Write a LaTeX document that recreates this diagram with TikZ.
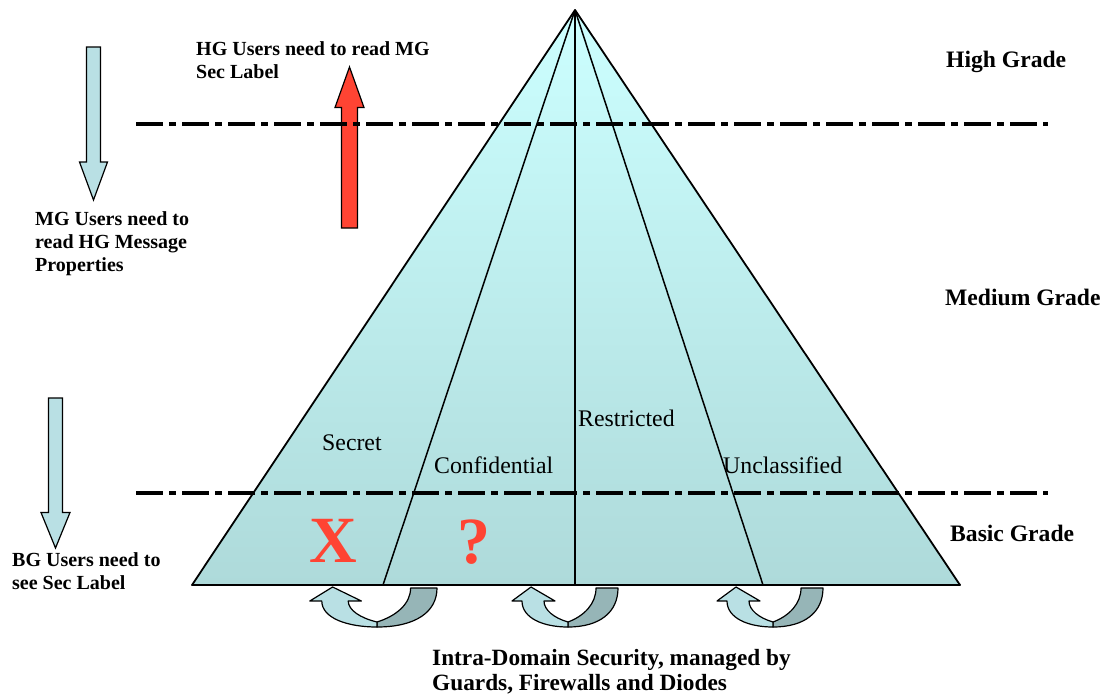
\documentclass[tikz,border=0pt]{standalone}
\usepackage{fontspec}
\setmainfont{Liberation Serif}
\begin{document}
\begin{tikzpicture}[x=1pt,y=-1pt,
  pyr/.style={draw=black,line width=1.8pt,line join=round},
  divider/.style={draw=black,line width=1.5pt},
  gradeline/.style={draw=black,line width=4pt,dash pattern=on 27pt off 6pt on 7pt off 6pt},
  blockarrow/.style={draw=black,line width=1.2pt,fill=lightband,line join=miter},
  redarrow/.style={draw=black,line width=1.2pt,fill=redfill},
  smalllbl/.style={inner sep=0pt,font=\fontsize{20}{23}\selectfont\bfseries,align=left},
  gradelbl/.style={inner sep=0pt,anchor=base west,font=\fontsize{23.6}{26}\selectfont\bfseries},
  classlbl/.style={inner sep=0pt,anchor=base west,font=\fontsize{23.8}{26}\selectfont},
  marklbl/.style={inner sep=0pt,anchor=base,text=redfill,font=\fontsize{66}{70}\selectfont\bfseries},
  bottomlbl/.style={inner sep=0pt,anchor=north west,align=left,font=\fontsize{23.3}{24.5}\selectfont\bfseries},
  uband/.style={draw=black,line width=1.2pt,line join=round}
]
\definecolor{pyrtop}{RGB}{204,255,255}
\definecolor{pyrbot}{RGB}{174,218,218}
\definecolor{lightband}{RGB}{185,224,228}
\definecolor{darkband}{RGB}{150,181,183}
\definecolor{redfill}{RGB}{255,68,51}

\useasboundingbox (0,0) rectangle (1103,694);

% pyramid
\coordinate (apex) at (575,10);
\coordinate (bl) at (192,585);
\coordinate (br) at (960,585);
\coordinate (b1) at (383,585);
\coordinate (b2) at (575,585);
\coordinate (b3) at (763,585);
\shade[top color=pyrtop,bottom color=pyrbot] (apex) -- (bl) -- (br) -- cycle;
\draw[divider] (apex) -- (b1);
\draw[divider] (apex) -- (b2);
\draw[divider] (apex) -- (b3);
\draw[pyr] (apex) -- (bl) -- (br) -- cycle;

% red arrow (up)
\draw[redarrow] (341.5,228) -- (341.5,107.5) -- (335,107.5) -- (349.5,67) -- (364,107.5) -- (357.5,107.5) -- (357.5,228) -- cycle;

% grade lines
\coordinate (hl1) at (136,124);
\coordinate (hr1) at (1048,124);
\coordinate (hl2) at (136,493);
\coordinate (hr2) at (1048,493);
\draw[gradeline] (hl1) -- (hr1);
\draw[gradeline] (hl2) -- (hr2);

% left down arrows
\draw[blockarrow] (86.5,47) -- (100.5,47) -- (100.5,162) -- (107.5,162) -- (93.5,200) -- (79.5,162) -- (86.5,162) -- cycle;
\draw[blockarrow] (48.5,398) -- (62.5,398) -- (62.5,512.5) -- (70,512.5) -- (55.5,548) -- (41,512.5) -- (48.5,512.5) -- cycle;

% U-turn arrows
\newcommand\uturnarrow[2]{%
\begin{scope}[shift={(#1,588)},xscale=#2]
\draw[uband,fill=darkband] (28,0) -- (50,0) .. controls (50,24) and (32,39) .. (0,39) -- (0,34) .. controls (16,28) and (28,16) .. (28,0) -- cycle;
\draw[uband,fill=lightband] (-46,13) .. controls (-46,30) and (-25,39) .. (0,39) -- (0,34) .. controls (-14,30) and (-24,22) .. (-24,13) -- (-13,13) -- (-37,-1) -- (-56,13) -- cycle;
\end{scope}}
\uturnarrow{377}{1.2}
\uturnarrow{568}{1}
\uturnarrow{773}{1}

% labels
\node[smalllbl,anchor=north west] (hgl) at (196,41.4) {HG Users need to read MG\\Sec Label};
\node[smalllbl,anchor=north west] (mgl) at (35,211.4) {MG Users need to\\read HG Message\\Properties};
\node[smalllbl,anchor=north west] (bgl) at (12,552.4) {BG Users need to\\see Sec Label};

\node[gradelbl] (high) at (946,67) {High Grade};
\node[gradelbl] (med) at (945,305) {Medium Grade};
\node[gradelbl] (basic) at (950,541) {Basic Grade};

\node[classlbl] (secret) at (322,450) {Secret};
\node[classlbl] (conf) at (434,473) {Confidential};
\node[classlbl] (restr) at (578,426) {Restricted};
\node[classlbl] (uncl) at (723,473) {Unclassified};

\node[marklbl] (xmark) at (333.5,562) {X};
\node[marklbl] (qmark) at (473.5,563) {?};

\node[bottomlbl] (intra) at (432,649.5) {Intra-Domain Security, managed by\\Guards, Firewalls and Diodes};
\end{tikzpicture}
\end{document}
